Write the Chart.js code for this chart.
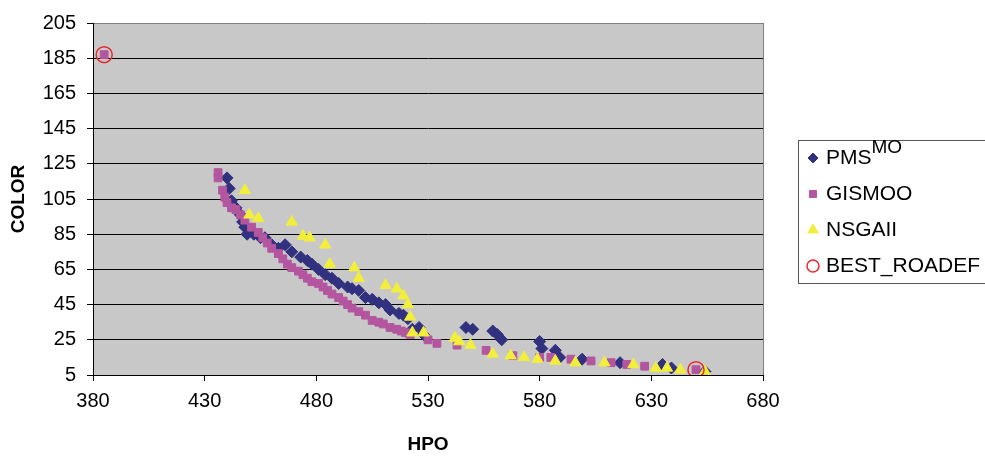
<!DOCTYPE html>
<html>
<head>
<meta charset="utf-8">
<title>HPO / COLOR</title>
<script src="https://cdn.jsdelivr.net/npm/chart.js@4.4.1/dist/chart.umd.min.js"></script>
<style>
    html, body { margin: 0; padding: 0; background: #fff; }
    #wrap { width: 985px; height: 456px; }
</style>
</head>
<body>
<div id="wrap"><canvas id="chart" width="985" height="456"></canvas></div>
<script>
// ticks
const xTicks = [380, 430, 480, 530, 580, 630, 680];
const yTicks = [5, 25, 45, 65, 85, 105, 125, 145, 165, 185, 205];

// PMS^MO
const pmsHpo = [440, 441, 442, 444, 446, 447, 448, 449, 452, 455, 457, 460, 463, 466, 469, 473, 476, 478, 481, 484,
    487, 490, 494, 496, 499, 502, 505, 508, 511, 513, 517, 519, 521, 523, 526, 528, 547, 550, 559, 561,
    563, 580, 581, 587, 589, 599, 616, 635, 639, 654];
const pmsColor = [117, 111, 104, 100, 96, 92, 89, 85, 85, 83, 83, 79, 77, 79, 75, 72, 70, 68, 65, 62,
    60, 57, 55, 54, 53, 49, 48, 46, 45, 42, 40, 39, 37, 31, 32, 28, 32, 31, 30, 28,
    25, 24, 20, 19, 15, 14, 12, 11, 9, 7];

// GISMOO
const gisHpo = [385, 436, 436, 438, 439, 440, 442, 444, 446, 448, 451, 454, 456, 458, 460, 463, 465, 467, 469, 472,
    474, 476, 478, 481, 483, 485, 487, 490, 492, 494, 496, 499, 502, 505, 508, 510, 513, 516, 518, 520,
    522, 530, 534, 543, 556, 568, 580, 585, 594, 603, 612, 619, 627, 650];
const gisColor = [187, 120, 117, 110, 106, 103, 100, 99, 96, 93, 89, 86, 83, 80, 77, 74, 71, 68, 66, 64,
    62, 60, 58, 57, 55, 53, 51, 49, 47, 45, 43, 41, 39, 36, 35, 34, 32, 31, 30, 29,
    28, 25, 23, 22, 19, 16, 15, 15, 14, 13, 12, 11, 10, 8];

// NSGAII
const nsHpo = [448, 450, 454, 469, 474, 477, 484, 486, 497, 499, 511, 516, 519, 521, 522, 523, 528, 542, 544, 549,
    559, 567, 573, 579, 587, 596, 609, 622, 632, 637, 643, 654];
const nsColor = [110, 96, 94, 92, 84, 83, 79, 68, 66, 60, 56, 54, 50, 45, 38, 29, 29, 26, 24, 22,
    17, 16, 15, 14, 13, 12, 12, 11, 9, 9, 8, 7];

// BEST_ROADEF
const bestHpo = [385, 650];
const bestColor = [187, 8];

const NAVY = '#31317F';
const MAGENTA = '#B3569F';
const YELLOW = '#F2EE3C';
const RED = '#E8282C';
const FONT = "'Liberation Sans', Arial, sans-serif";

function toPoints(xs, ys)
{
    return xs.map((x, i) => ({ x: x, y: ys[i] }));
}

// fondo gris del area + borde
const plotBackground = {
    id: 'plotBackground',
    beforeDraw: (chart) =>
    {
        const { ctx, chartArea: a } = chart;
        ctx.save();
        ctx.fillStyle = '#C8C8C8';
        ctx.fillRect(a.left, a.top, a.right - a.left, a.bottom - a.top);
        ctx.restore();
    },
    afterDatasetsDraw: (chart) =>
    {
        const { ctx, chartArea: a } = chart;
        ctx.save();
        ctx.strokeStyle = '#808080';
        ctx.lineWidth = 1;
        ctx.beginPath();
        ctx.moveTo(Math.round(a.right) + 0.5, a.top);
        ctx.lineTo(Math.round(a.right) + 0.5, a.bottom);
        ctx.stroke();
        ctx.restore();
    }
};

// leyenda dibujada a mano (por el superindice MO)
const sideLegend = {
    id: 'sideLegend',
    afterDraw: (chart) =>
    {
        const ctx = chart.ctx;
        const boxX = 798, boxY = 140, boxW = 200, boxH = 143;
        ctx.save();
        ctx.fillStyle = '#fff';
        ctx.fillRect(boxX, boxY, boxW, boxH);
        ctx.strokeStyle = '#555';
        ctx.lineWidth = 1;
        ctx.strokeRect(boxX + 0.5, boxY + 0.5, boxW, boxH);

        const items = [
            { text: 'PMS', sup: 'MO', style: 'rectRot', color: NAVY, r: 5, y: 158 },
            { text: 'GISMOO', style: 'rect', color: MAGENTA, r: 5, y: 194 },
            { text: 'NSGAII', style: 'triangle', color: YELLOW, r: 6, y: 230 },
            { text: 'BEST_ROADEF', style: 'circle', color: RED, r: 6, y: 266, hollow: true }
        ];
        const markX = 813, textX = 826;
        items.forEach(it =>
        {
            ctx.fillStyle = it.hollow ? 'rgba(0,0,0,0)' : it.color;
            ctx.strokeStyle = it.color;
            ctx.lineWidth = it.hollow ? 1.5 : 1;
            Chart.helpers.drawPoint(ctx, { pointStyle: it.style, radius: it.r, borderWidth: ctx.lineWidth }, markX, it.y);

            ctx.fillStyle = '#000';
            ctx.font = '21px ' + FONT;
            ctx.textAlign = 'left';
            ctx.textBaseline = 'middle';
            ctx.fillText(it.text, textX, it.y);
            if (it.sup)
            {
                const w = ctx.measureText(it.text).width;
                ctx.font = '19px ' + FONT;
                ctx.fillText(it.sup, textX + w, it.y - 10);
            }
        });
        ctx.restore();
    }
};

new Chart(document.getElementById('chart'), {
    type: 'scatter',
    data: {
        datasets: [
            {
                label: 'PMS',
                data: toPoints(pmsHpo, pmsColor),
                pointStyle: 'rectRot',
                pointRadius: 6,
                backgroundColor: NAVY,
                borderColor: NAVY,
                borderWidth: 1,
                order: 3
            },
            {
                label: 'GISMOO',
                data: toPoints(gisHpo, gisColor),
                pointStyle: 'rect',
                pointRadius: 5.5,
                backgroundColor: MAGENTA,
                borderColor: MAGENTA,
                borderWidth: 1,
                order: 2
            },
            {
                label: 'NSGAII',
                data: toPoints(nsHpo, nsColor),
                pointStyle: 'triangle',
                pointRadius: 6.5,
                backgroundColor: YELLOW,
                borderColor: YELLOW,
                borderWidth: 1,
                order: 1
            },
            {
                label: 'BEST_ROADEF',
                data: toPoints(bestHpo, bestColor),
                pointStyle: 'circle',
                pointRadius: 8,
                backgroundColor: 'rgba(0,0,0,0)',
                borderColor: RED,
                borderWidth: 1.5,
                order: 0
            }
        ]
    },
    options: {
        responsive: false,
        animation: false,
        devicePixelRatio: 1,
        layout: { padding: { left: 0, top: 23, right: 222, bottom: 0 } },
        plugins: {
            legend: { display: false },
            tooltip: { enabled: false }
        },
        scales: {
            x: {
                type: 'linear',
                min: 380,
                max: 680,
                afterBuildTicks: (axis) => { axis.ticks = xTicks.map(v => ({ value: v })); },
                afterFit: (axis) => { axis.height = 81; },
                grid: { drawOnChartArea: false, drawTicks: true, tickLength: 6, tickColor: '#000' },
                border: { display: true, color: '#000', width: 1 },
                ticks: {
                    color: '#000',
                    font: { family: FONT, size: 20 },
                    padding: 8,
                    maxRotation: 0,
                    callback: (v) => String(v)
                },
                title: {
                    display: true,
                    text: 'HPO',
                    color: '#000',
                    font: { family: FONT, size: 19, weight: 'bold' },
                    padding: { top: 0, bottom: 0 }
                }
            },
            y: {
                type: 'linear',
                min: 5,
                max: 205,
                afterBuildTicks: (axis) => { axis.ticks = yTicks.map(v => ({ value: v })); },
                afterFit: (axis) => { axis.width = 93; },
                grid: {
                    color: (c) => (c.tick && c.tick.value === 205) ? '#808080' : '#000',
                    lineWidth: 1,
                    drawTicks: true,
                    tickLength: 6,
                    tickColor: '#000'
                },
                border: { display: true, color: '#000', width: 1 },
                ticks: {
                    color: '#000',
                    font: { family: FONT, size: 20 },
                    padding: 11,
                    callback: (v) => String(v)
                },
                title: {
                    display: true,
                    text: 'COLOR',
                    color: '#000',
                    font: { family: FONT, size: 19, weight: 'bold' },
                    padding: { top: 7, bottom: 0 }
                }
            }
        }
    },
    plugins: [plotBackground, sideLegend]
});
</script>
</body>
</html>
